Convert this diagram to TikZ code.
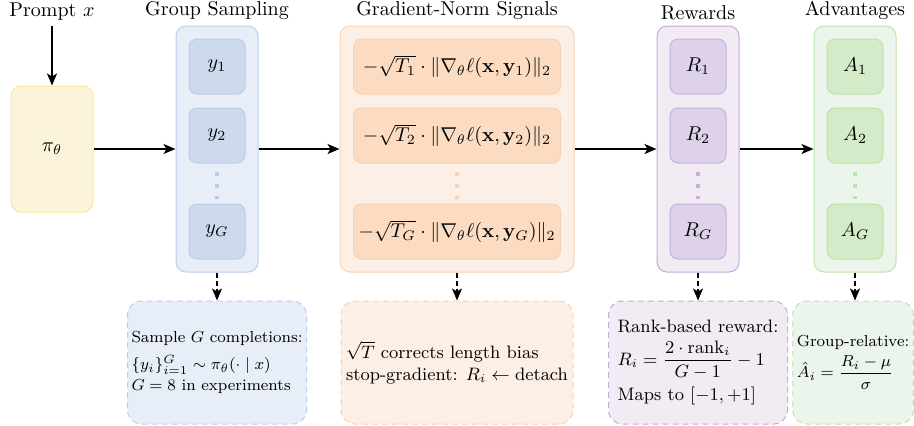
\documentclass[tikz,border=0pt]{standalone}
\usepackage{amsmath}
\usepackage{amssymb}
\usepackage{xcolor}
\usetikzlibrary{arrows.meta}
\definecolor{piFill}{HTML}{FCF4DA}
\definecolor{piDraw}{HTML}{FFE599}
\definecolor{blueOut}{HTML}{E8EEF8}
\definecolor{blueOutDraw}{HTML}{BCCDEE}
\definecolor{blueIn}{HTML}{CDD9EC}
\definecolor{blueInDraw}{HTML}{BBCCEA}
\definecolor{orOut}{HTML}{FCEFE5}
\definecolor{orOutDraw}{HTML}{F9D3B3}
\definecolor{orIn}{HTML}{FBDCC2}
\definecolor{orInDraw}{HTML}{F8D2B2}
\definecolor{puOut}{HTML}{F3EBF3}
\definecolor{puOutDraw}{HTML}{C2ACD8}
\definecolor{puIn}{HTML}{DDD2E9}
\definecolor{puInDraw}{HTML}{C4B1DC}
\definecolor{grOut}{HTML}{EBF5EC}
\definecolor{grOutDraw}{HTML}{BDE3AC}
\definecolor{grIn}{HTML}{D3EBC9}
\definecolor{grInDraw}{HTML}{BDE3AC}

\tikzset{
  outerbox/.style={draw, rounded corners=5pt, line width=0.5pt, minimum width=41pt, minimum height=123pt},
  itembox/.style={draw, rounded corners=4pt, line width=0.5pt, minimum width=28pt, minimum height=27.5pt, inner sep=0pt},
  notebox/.style={draw, dash pattern=on 3pt off 2pt, rounded corners=7pt, line width=0.5pt,
                  minimum height=61.5pt, align=left, inner sep=2pt},
  flow/.style={-{Stealth[length=6pt,width=5pt,inset=1.5pt]}, line width=0.75pt},
  hint/.style={flow, dash pattern=on 2.5pt off 1.5pt},
  dotline/.style={line width=2pt, dash pattern=on 2pt off 4pt},
  steptitle/.style={anchor=south, inner sep=2.5pt},
}

\begin{document}
\begin{tikzpicture}[x=1pt,y=1pt]

  \useasboundingbox (0,0) rectangle (457,-212.5);

  % Policy.
  \node[steptitle] (prompt) at (26,-13) {Prompt $x$};
  \node[draw=piDraw, fill=piFill, rounded corners=5pt, line width=0.5pt,
        minimum width=41pt, minimum height=63pt] (pi) at (26,-74.5) {$\pi_\theta$};
  \draw[flow] (prompt) -- (pi);

  % Group sampling.
  \node[outerbox, draw=blueOutDraw, fill=blueOut] (grp) at (108.5,-74.5) {};
  \node[steptitle] (grptitle) at (grp.north) {Group Sampling};
  \node[itembox, draw=blueInDraw, fill=blueIn] (y1) at (108.5,-33.25) {$y_1$};
  \node[itembox, draw=blueInDraw, fill=blueIn] (y2) at (108.5,-67.75) {$y_2$};
  \node[itembox, draw=blueInDraw, fill=blueIn] (yG) at (108.5,-115.75) {$y_G$};
  \draw[dotline, draw=blueInDraw] ([yshift=-4pt]y2.south) -- ([yshift=2.5pt]yG.north);

  % Gradient-norm signals.
  \node[outerbox, minimum width=117pt, draw=orOutDraw, fill=orOut] (grad) at (228.5,-74.5) {};
  \node[steptitle] (gradtitle) at (grad.north) {Gradient-Norm Signals};
  \node[itembox, minimum width=103.5pt, draw=orInDraw, fill=orIn] (g1) at (228.5,-33.25)
    {$-\sqrt{T_1}\cdot\|\nabla_\theta\ell(\mathbf{x},\mathbf{y}_1)\|_2$};
  \node[itembox, minimum width=103.5pt, draw=orInDraw, fill=orIn] (g2) at (228.5,-67.75)
    {$-\sqrt{T_2}\cdot\|\nabla_\theta\ell(\mathbf{x},\mathbf{y}_2)\|_2$};
  \node[itembox, minimum width=103.5pt, draw=orInDraw, fill=orIn] (gG) at (228.5,-115.75)
    {$-\sqrt{T_G}\cdot\|\nabla_\theta\ell(\mathbf{x},\mathbf{y}_G)\|_2$};
  \draw[dotline, draw=orInDraw] ([yshift=-4pt]g2.south) -- ([yshift=2.5pt]gG.north);

  % Rewards.
  \node[outerbox, draw=puOutDraw, fill=puOut] (rew) at (349,-74.5) {};
  \node[steptitle] (rewtitle) at (rew.north) {Rewards};
  \node[itembox, draw=puInDraw, fill=puIn] (r1) at (349,-33.25) {$R_1$};
  \node[itembox, draw=puInDraw, fill=puIn] (r2) at (349,-67.75) {$R_2$};
  \node[itembox, draw=puInDraw, fill=puIn] (rG) at (349,-115.75) {$R_G$};
  \draw[dotline, draw=puInDraw] ([yshift=-4pt]r2.south) -- ([yshift=2.5pt]rG.north);

  % Advantages.
  \node[outerbox, draw=grOutDraw, fill=grOut] (adv) at (427.5,-74.5) {};
  \node[steptitle] (advtitle) at (adv.north) {Advantages};
  \node[itembox, draw=grInDraw, fill=grIn] (a1) at (427.5,-33.25) {$A_1$};
  \node[itembox, draw=grInDraw, fill=grIn] (a2) at (427.5,-67.75) {$A_2$};
  \node[itembox, draw=grInDraw, fill=grIn] (aG) at (427.5,-115.75) {$A_G$};
  \draw[dotline, draw=grInDraw] ([yshift=-4pt]a2.south) -- ([yshift=2.5pt]aG.north);

  % Main flow.
  \draw[flow] (pi) -- (grp);
  \draw[flow] (grp) -- (grad);
  \draw[flow] (grad) -- (rew);
  \draw[flow] (rew) -- (adv);

  % Notes.
  \node[notebox, draw=blueOutDraw, fill=blueOut, minimum width=89.5pt,
        font=\footnotesize] (grpnote) at (108.5,-181.25)
    {Sample $G$ completions:\\[4pt] $\{y_i\}_{i=1}^{G}\sim\pi_\theta(\cdot\mid x)$\\[1pt] $G=8$ in experiments};
  \node[notebox, draw=orOutDraw, fill=orOut, minimum width=116pt,
        font=\small] (gradnote) at (228.5,-181.25)
    {$\sqrt{T}$ corrects length bias\\ stop-gradient: $R_i\leftarrow\mathrm{detach}$};
  \node[notebox, draw=puOutDraw, fill=puOut, minimum width=89.5pt,
        font=\small] (rewnote) at (349,-181.25)
    {Rank-based reward:\\[3pt] $R_i=\dfrac{2\cdot\mathrm{rank}_i}{G-1}-1$\\[3pt] Maps to $[-1,+1]$};
  \node[notebox, draw=grOutDraw, fill=grOut, minimum width=59pt,
        font=\footnotesize] (advnote) at (426.5,-181.25)
    {Group-relative:\\[2pt] $\hat{A}_i=\dfrac{R_i-\mu}{\sigma}$};

  \draw[hint] (grp) -- (grpnote);
  \draw[hint] (grad) -- (gradnote);
  \draw[hint] (rew) -- (rewnote);
  \draw[hint] (adv.south) -- (adv.south |- advnote.north);

\end{tikzpicture}
\end{document}
